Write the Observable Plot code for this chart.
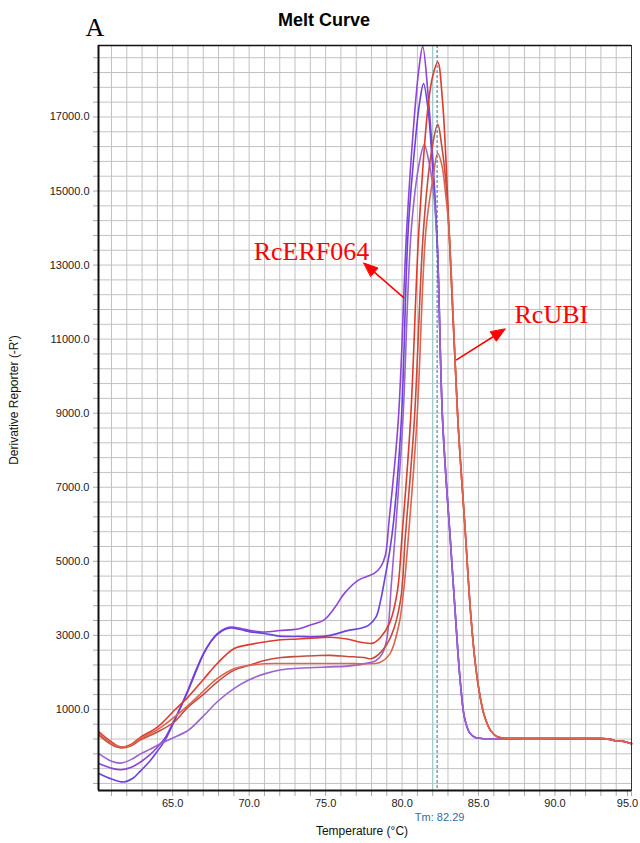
<!DOCTYPE html>
<html><head><meta charset="utf-8">
<script src="https://cdn.jsdelivr.net/npm/d3@7"></script>
<script src="https://cdn.jsdelivr.net/npm/@observablehq/plot@0.6"></script>
<style>
body{margin:0;background:#fff;}
#wrap{width:640px;height:843px;overflow:hidden;}
</style></head><body><div id="wrap"></div>
<script>
// ---------- data ----------
const erfTail = [[82.65,8800],[83.2,5300],[83.64,2600],[83.85,1550],[84.07,800],[84.4,380],[84.75,250],[85.2,216],[88.0,214],[91.0,212],[93.0,210],[93.6,190],[94.0,150],[94.4,140],[95.0,75]];
const ubiTail = [[83.65,8800],[84.1,6000],[84.5,3500],[84.8,2200],[85.1,1350],[85.4,800],[85.8,420],[86.2,270],[86.7,220],[87.2,216],[90.0,213],[93.0,210],[93.6,190],[94.0,150],[94.4,140],[95.0,75]];

const erf1 = [[60.2,-470],[61.0,-590],[61.6,-630],[62.3,-560],[62.9,-420],[63.5,-230],[64.0,-20],[64.5,230],[65.0,620],[65.5,1050],[66.0,1520],[66.5,2040],[67.0,2500],[67.5,2840],[67.9,3040],[68.4,3180],[68.8,3225],[69.5,3180],[70.0,3140],[71.0,3090],[72.0,3130],[73.2,3170],[74.0,3280],[74.9,3420],[75.6,3750],[76.2,4120],[77.1,4480],[78.2,4680],[78.6,4850],[78.9,5150],[79.15,6100],[79.75,8800],[80.3,13950],[80.8,17000],[81.1,18300],[81.35,18900],[81.7,17600],[82.0,15900],[82.3,13600]].concat(erfTail);
const erf2 = [[60.2,-740],[61.0,-880],[61.8,-960],[62.4,-860],[62.9,-660],[63.5,-400],[64.0,-130],[64.5,170],[65.0,590],[65.5,1040],[66.0,1500],[66.5,2000],[67.0,2480],[67.5,2830],[67.9,3020],[68.4,3160],[68.8,3200],[69.5,3150],[70.0,3100],[71.0,3050],[72.0,2980],[73.2,2970],[74.3,2960],[75.3,3000],[76.5,3135],[77.3,3190],[77.8,3270],[78.3,3500],[78.6,3950],[78.9,4600],[79.2,5300],[79.45,6100],[79.95,8800],[80.4,13950],[80.9,16500],[81.15,17400],[81.4,17900],[81.7,17200],[82.0,15600],[82.3,13600]].concat(erfTail);
const erf3 = [[60.2,-200],[61.0,-400],[61.6,-450],[62.3,-350],[62.9,-200],[63.5,-80],[64.0,30],[64.9,210],[66.0,430],[67.05,840],[67.9,1200],[69.0,1560],[70.0,1800],[71.0,1960],[72.1,2070],[73.2,2110],[74.3,2130],[75.3,2150],[76.4,2170],[77.5,2230],[78.3,2320],[78.7,2500],[79.0,2900],[79.3,4400],[79.6,6000],[80.05,8800],[80.6,13950],[81.1,15700],[81.45,16250],[81.75,15800],[82.05,15000],[82.3,13500]].concat(erfTail);

const ubi1 = [[60.2,390],[61.0,120],[61.6,-20],[62.3,60],[62.9,250],[64.0,520],[65.1,970],[66.0,1333],[67.05,1830],[67.9,2234],[69.0,2640],[70.0,2750],[71.0,2820],[72.1,2880],[73.2,2900],[74.3,2930],[75.3,2950],[76.4,2900],[77.5,2800],[78.1,2790],[78.6,2950],[79.2,3350],[79.7,4215],[80.0,5700],[80.55,8800],[81.1,13950],[81.7,17300],[82.0,18100],[82.33,18480],[82.65,17400],[83.07,13950]].concat(ubiTail);
const ubi2 = [[60.2,300],[61.0,50],[61.6,-40],[62.3,20],[62.9,180],[64.0,390],[65.1,660],[66.0,1063],[67.05,1420],[67.9,1740],[69.0,2054],[70.0,2190],[71.0,2320],[72.1,2400],[73.2,2430],[74.3,2450],[75.3,2460],[76.4,2430],[77.5,2400],[78.0,2370],[78.6,2540],[79.3,3000],[79.9,3950],[80.2,5600],[80.8,8800],[81.4,13950],[81.9,16000],[82.33,16800],[82.6,16200],[82.85,15300],[83.07,13950]].concat(ubiTail);
const ubi3 = [[60.2,350],[61.0,80],[61.6,-10],[62.3,40],[62.9,220],[64.0,450],[65.1,790],[66.0,1100],[67.05,1510],[67.9,1830],[69.0,2100],[70.0,2190],[71.0,2234],[72.1,2240],[74.3,2240],[76.4,2240],[77.5,2235],[78.5,2260],[79.2,2500],[79.8,3300],[80.1,4200],[80.4,5600],[80.97,8800],[81.56,13950],[82.0,15300],[82.33,16020],[82.6,15700],[82.85,14900],[83.07,13950]].concat(ubiTail);

const seriesNames = ["RcERF064-1","RcERF064-2","RcERF064-3","RcUBI-1","RcUBI-2","RcUBI-3"];
const seriesData = [erf1, erf2, erf3, ubi1, ubi2, ubi3];
const seriesColors = ["#8e44d8","#6a42de","#9c62cf","#e03a2c","#c44c3e","#dc6550"];

const xTicks = [65, 70, 75, 80, 85, 90, 95];
const yTicks = [1000, 3000, 5000, 7000, 9000, 11000, 13000, 15000, 17000];
const xGrid = d3.range(61, 96, 1);
const yGrid = d3.range(-1000, 18601, 400);

const tmValue = 82.29;
const tmSecond = 82.0;

const annotText = ["RcERF064", "RcUBI"];
const annotPos = [[70.3, 13350], [87.35, 11650]];
const arrowFrom = [[80.14, 12109], [83.53, 10433]];
const arrowTo = [[77.50, 13055], [86.74, 11271]];

// ---------- layout ----------
const W = 640, H = 843, ML = 98, MR = 9, MT = 45, MB = 53;
const xDomain = [60.15, 95.0], yDomain = [-1190, 18930];

const table = [];
seriesData.forEach((pts, i) => pts.forEach(([t, v]) => table.push({name: seriesNames[i], t, v})));

const xs = d3.scaleLinear(xDomain, [ML, W - MR]);
const ys = d3.scaleLinear(yDomain, [H - MB, MT]);
const shafts = [], heads = [];
arrowFrom.forEach((f, i) => {
  const to = arrowTo[i];
  const x1 = xs(f[0]), y1 = ys(f[1]), x2 = xs(to[0]), y2 = ys(to[1]);
  const len = Math.hypot(x2 - x1, y2 - y1), ux = (x2 - x1) / len, uy = (y2 - y1) / len;
  const L = 14, w = 5.5;
  const bx = x2 - L * ux, by = y2 - L * uy;
  shafts.push({x1: f[0], y1: f[1], x2: xs.invert(bx + 2 * ux), y2: ys.invert(by + 2 * uy)});
  [[x2, y2], [bx - w * uy, by + w * ux], [bx + w * uy, by - w * ux]]
    .forEach(([px, py]) => heads.push({id: i, x: xs.invert(px), y: ys.invert(py)}));
});
const annots = annotText.map((s, i) => ({s, x: annotPos[i][0], y: annotPos[i][1]}));

const lineMarks = seriesNames.map((n, i) =>
  Plot.line(table.filter(d => d.name === n), {x: "t", y: "v", stroke: seriesColors[i], strokeWidth: 1.6, curve: "catmull-rom"}));

const lastTick = xTicks[xTicks.length - 1];
const chart = Plot.plot({
  width: W, height: H, marginLeft: ML, marginRight: MR, marginTop: MT, marginBottom: MB,
  x: {domain: xDomain}, y: {domain: yDomain},
  style: {fontFamily: "Arial, 'Liberation Sans', sans-serif", fontSize: "11px", color: "#222", background: "#fff"},
  marks: [
    Plot.gridX({ticks: xGrid, stroke: "#c2c2c2", strokeOpacity: 1}),
    Plot.gridY({ticks: yGrid, stroke: "#c2c2c2", strokeOpacity: 1}),
    Plot.axisX({ticks: xGrid, tickSize: 6, tickPadding: 3, stroke: "#aaa", fill: "#222",
      tickFormat: d => (xTicks.includes(d) && d !== lastTick) ? d.toFixed(1) : "", label: null}),
    Plot.axisX({ticks: [lastTick], tickSize: 6, tickPadding: 3, stroke: "#aaa", fill: "#222", dx: -4,
      tickFormat: d => d.toFixed(1), label: null}),
    Plot.axisY({ticks: yGrid, tickSize: 5, tickPadding: 4, stroke: "#aaa", fill: "#222",
      tickFormat: d => yTicks.includes(d) ? d.toFixed(1) : "", label: null}),
    Plot.ruleX([tmSecond], {stroke: "#9ccbc8", strokeWidth: 1}),
    ...lineMarks,
    Plot.ruleX([tmValue], {stroke: "#2f6f9e", strokeWidth: 1, strokeDasharray: "3,2"}),
    Plot.frame({stroke: "#333", strokeWidth: 1}),
    Plot.ruleX([xDomain[0]], {stroke: "#111", strokeWidth: 2}),
    Plot.ruleY([yDomain[0]], {stroke: "#111", strokeWidth: 2}),
    Plot.ruleY([yDomain[1]], {stroke: "#111", strokeWidth: 1.5}),
    Plot.link(shafts, {x1: "x1", y1: "y1", x2: "x2", y2: "y2", stroke: "#ff0000", strokeWidth: 1.5}),
    Plot.line(heads, {x: "x", y: "y", z: "id", fill: "#ff0000", stroke: "#ff0000", strokeWidth: 1, curve: "linear-closed"}),
    Plot.text(annots, {x: "x", y: "y", text: "s", textAnchor: "start", lineAnchor: "middle",
      fontSize: 26, fontFamily: "'Liberation Serif','Times New Roman',serif", fill: "#ff0000"})
  ]
});

const svg = d3.select(chart);
svg.append("text").attr("x", 95).attr("y", 36)
  .attr("font-family", "'Liberation Serif','Times New Roman',serif").attr("font-size", 26).attr("fill", "#000").text("A");
svg.append("text").attr("x", 324).attr("y", 26).attr("text-anchor", "middle")
  .attr("font-family", "Arial,'Liberation Sans',sans-serif").attr("font-weight", "bold").attr("font-size", 18).attr("fill", "#000").text("Melt Curve");
svg.append("text").attr("x", xs(tmValue) + 3).attr("y", 821).attr("text-anchor", "middle")
  .attr("font-size", 11).attr("fill", "#2f6f9e").text("Tm: " + tmValue.toFixed(2));
svg.append("text").attr("x", 362).attr("y", 835).attr("text-anchor", "middle")
  .attr("font-size", 12).attr("fill", "#111").text("Temperature (°C)");
svg.append("text").attr("transform", "translate(18,400) rotate(-90)").attr("text-anchor", "middle")
  .attr("font-size", 12).attr("fill", "#111").text("Derivative Reporter (-R')");

document.getElementById("wrap").appendChild(chart);
</script>
</body></html>
